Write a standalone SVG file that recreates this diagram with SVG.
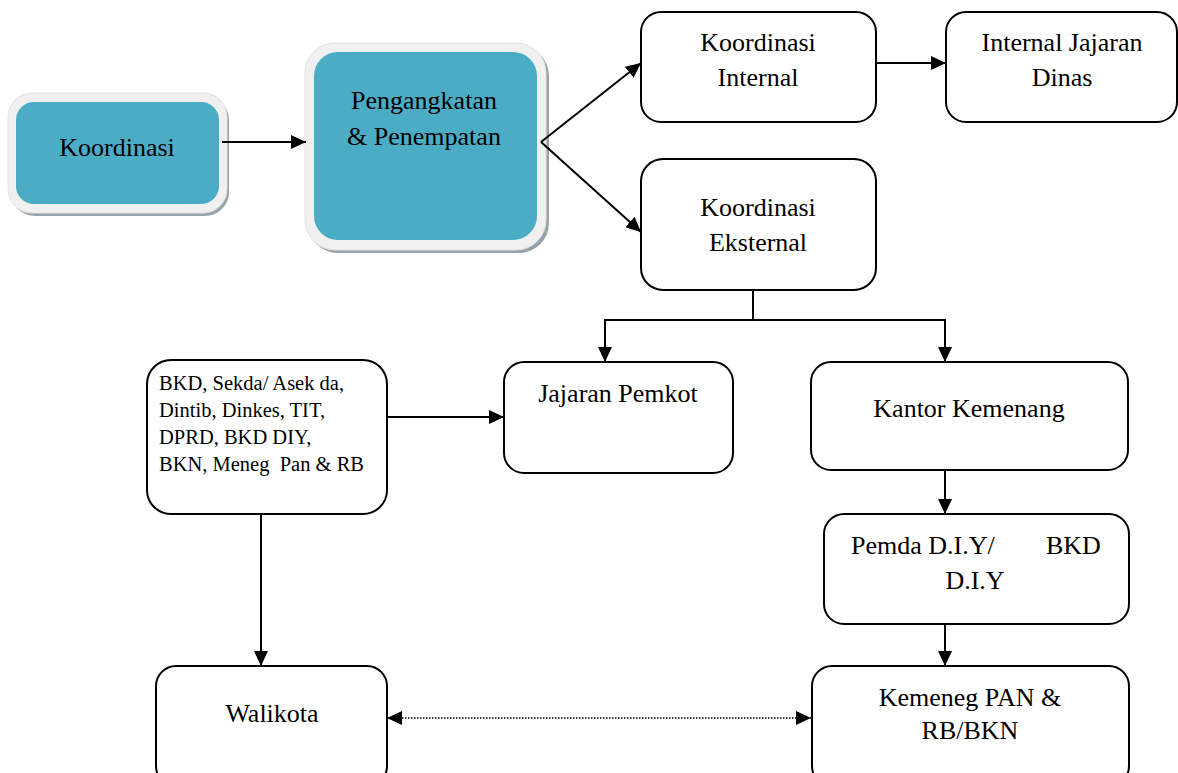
<svg xmlns="http://www.w3.org/2000/svg" width="1178" height="773" viewBox="0 0 1178 773">
<defs>
<style>
.box{fill:#FFFFFF;stroke:#000000;stroke-width:2}
.shadow{fill:#97A3AA}
.halo{fill:#F0F0F0;stroke:#E2E2E2;stroke-width:1}
.teal{fill:#4BACC6}
.t{font-family:"Liberation Serif","Times New Roman",serif;font-size:26px;fill:#000000}
.c{text-anchor:middle}
.s{font-family:"Liberation Serif","Times New Roman",serif;font-size:20.5px;fill:#000000}
.ln{fill:none;stroke:#000000;stroke-width:2}
.arr{marker-end:url(#ah)}
.dot{fill:none;stroke:#000000;stroke-width:1.5;stroke-dasharray:1.5 1.5}
</style>
<marker id="ah" markerWidth="15" markerHeight="14" refX="15" refY="7" orient="auto" markerUnits="userSpaceOnUse">
<path d="M0,0 L15,7 L0,14 z" fill="#000000"/>
</marker>
<marker id="ah2" markerWidth="15" markerHeight="14" refX="15" refY="7" orient="auto-start-reverse" markerUnits="userSpaceOnUse">
<path d="M0,0 L15,7 L0,14 z" fill="#000000"/>
</marker>
</defs>

<g id="node-koordinasi">
<rect class="shadow" x="11" y="96" width="218" height="120" rx="24"/>
<rect class="halo" x="8" y="93" width="219" height="120" rx="24"/>
<rect class="teal" x="16" y="102" width="203" height="102" rx="18"/>
<text class="t c" x="117" y="156">Koordinasi</text>
</g>

<g id="node-pengangkatan">
<rect class="shadow" x="308" y="46" width="241" height="207" rx="30"/>
<rect class="halo" x="305" y="43" width="241" height="207" rx="30"/>
<rect class="teal" x="314" y="52" width="223" height="188" rx="24"/>
<text class="t c" x="424" y="109">Pengangkatan</text>
<text class="t c" x="424" y="145">&amp; Penempatan</text>
</g>

<g id="node-koordinasi-internal">
<rect class="box" x="641" y="12" width="235" height="110" rx="20"/>
<text class="t c" x="758" y="51">Koordinasi</text>
<text class="t c" x="758" y="86">Internal</text>
</g>

<g id="node-internal-jajaran">
<rect class="box" x="946" y="12" width="231" height="110" rx="20"/>
<text class="t c" x="1062" y="51">Internal Jajaran</text>
<text class="t c" x="1062" y="86">Dinas</text>
</g>

<g id="node-koordinasi-eksternal">
<rect class="box" x="641" y="159" width="235" height="131" rx="22"/>
<text class="t c" x="758" y="216">Koordinasi</text>
<text class="t c" x="758" y="251">Eksternal</text>
</g>

<g id="node-bkd">
<rect class="box" x="147" y="360" width="240" height="154" rx="24"/>
<text class="s" x="159" y="390">BKD, Sekda/ Asek da,</text>
<text class="s" x="159" y="417">Dintib, Dinkes, TIT,</text>
<text class="s" x="159" y="444">DPRD, BKD DIY,</text>
<text class="s" x="159" y="471" xml:space="preserve">BKN, Meneg  Pan &amp; RB</text>
</g>

<g id="node-jajaran-pemkot">
<rect class="box" x="504" y="362" width="229" height="111" rx="20"/>
<text class="t c" x="618" y="402">Jajaran Pemkot</text>
</g>

<g id="node-kantor-kemenang">
<rect class="box" x="811" y="362" width="317" height="108" rx="20"/>
<text class="t c" x="969" y="417">Kantor Kemenang</text>
</g>

<g id="node-pemda">
<rect class="box" x="824" y="514" width="305" height="110" rx="20"/>
<text class="t" y="554"><tspan x="851">Pemda D.I.Y/</tspan><tspan x="1046">BKD</tspan></text>
<text class="t c" x="975" y="589">D.I.Y</text>
</g>

<g id="node-walikota">
<rect class="box" x="156" y="666" width="231" height="120" rx="20"/>
<text class="t c" x="272" y="722">Walikota</text>
</g>

<g id="node-kemeneg">
<rect class="box" x="812" y="666" width="317" height="120" rx="20"/>
<text class="t c" x="970" y="706">Kemeneg PAN &amp;</text>
<text class="t c" x="970" y="739">RB/BKN</text>
</g>

<g id="connectors">
<line class="ln arr" x1="222" y1="142" x2="306" y2="142"/>
<line class="ln arr" x1="541" y1="142" x2="641" y2="63"/>
<line class="ln arr" x1="541" y1="142" x2="641" y2="232"/>
<line class="ln arr" x1="876" y1="63" x2="946" y2="63"/>
<polyline class="ln" points="753,290 753,320"/>
<polyline class="ln arr" points="753,320 605,320 605,362"/>
<polyline class="ln arr" points="753,320 945,320 945,362"/>
<line class="ln arr" x1="387" y1="417" x2="504" y2="417"/>
<line class="ln arr" x1="261" y1="514" x2="261" y2="666"/>
<line class="ln arr" x1="945" y1="470" x2="945" y2="514"/>
<line class="ln arr" x1="945" y1="624" x2="945" y2="666"/>
<line class="dot" x1="387" y1="718" x2="811" y2="718" marker-start="url(#ah2)" marker-end="url(#ah2)"/>
</g>
</svg>
